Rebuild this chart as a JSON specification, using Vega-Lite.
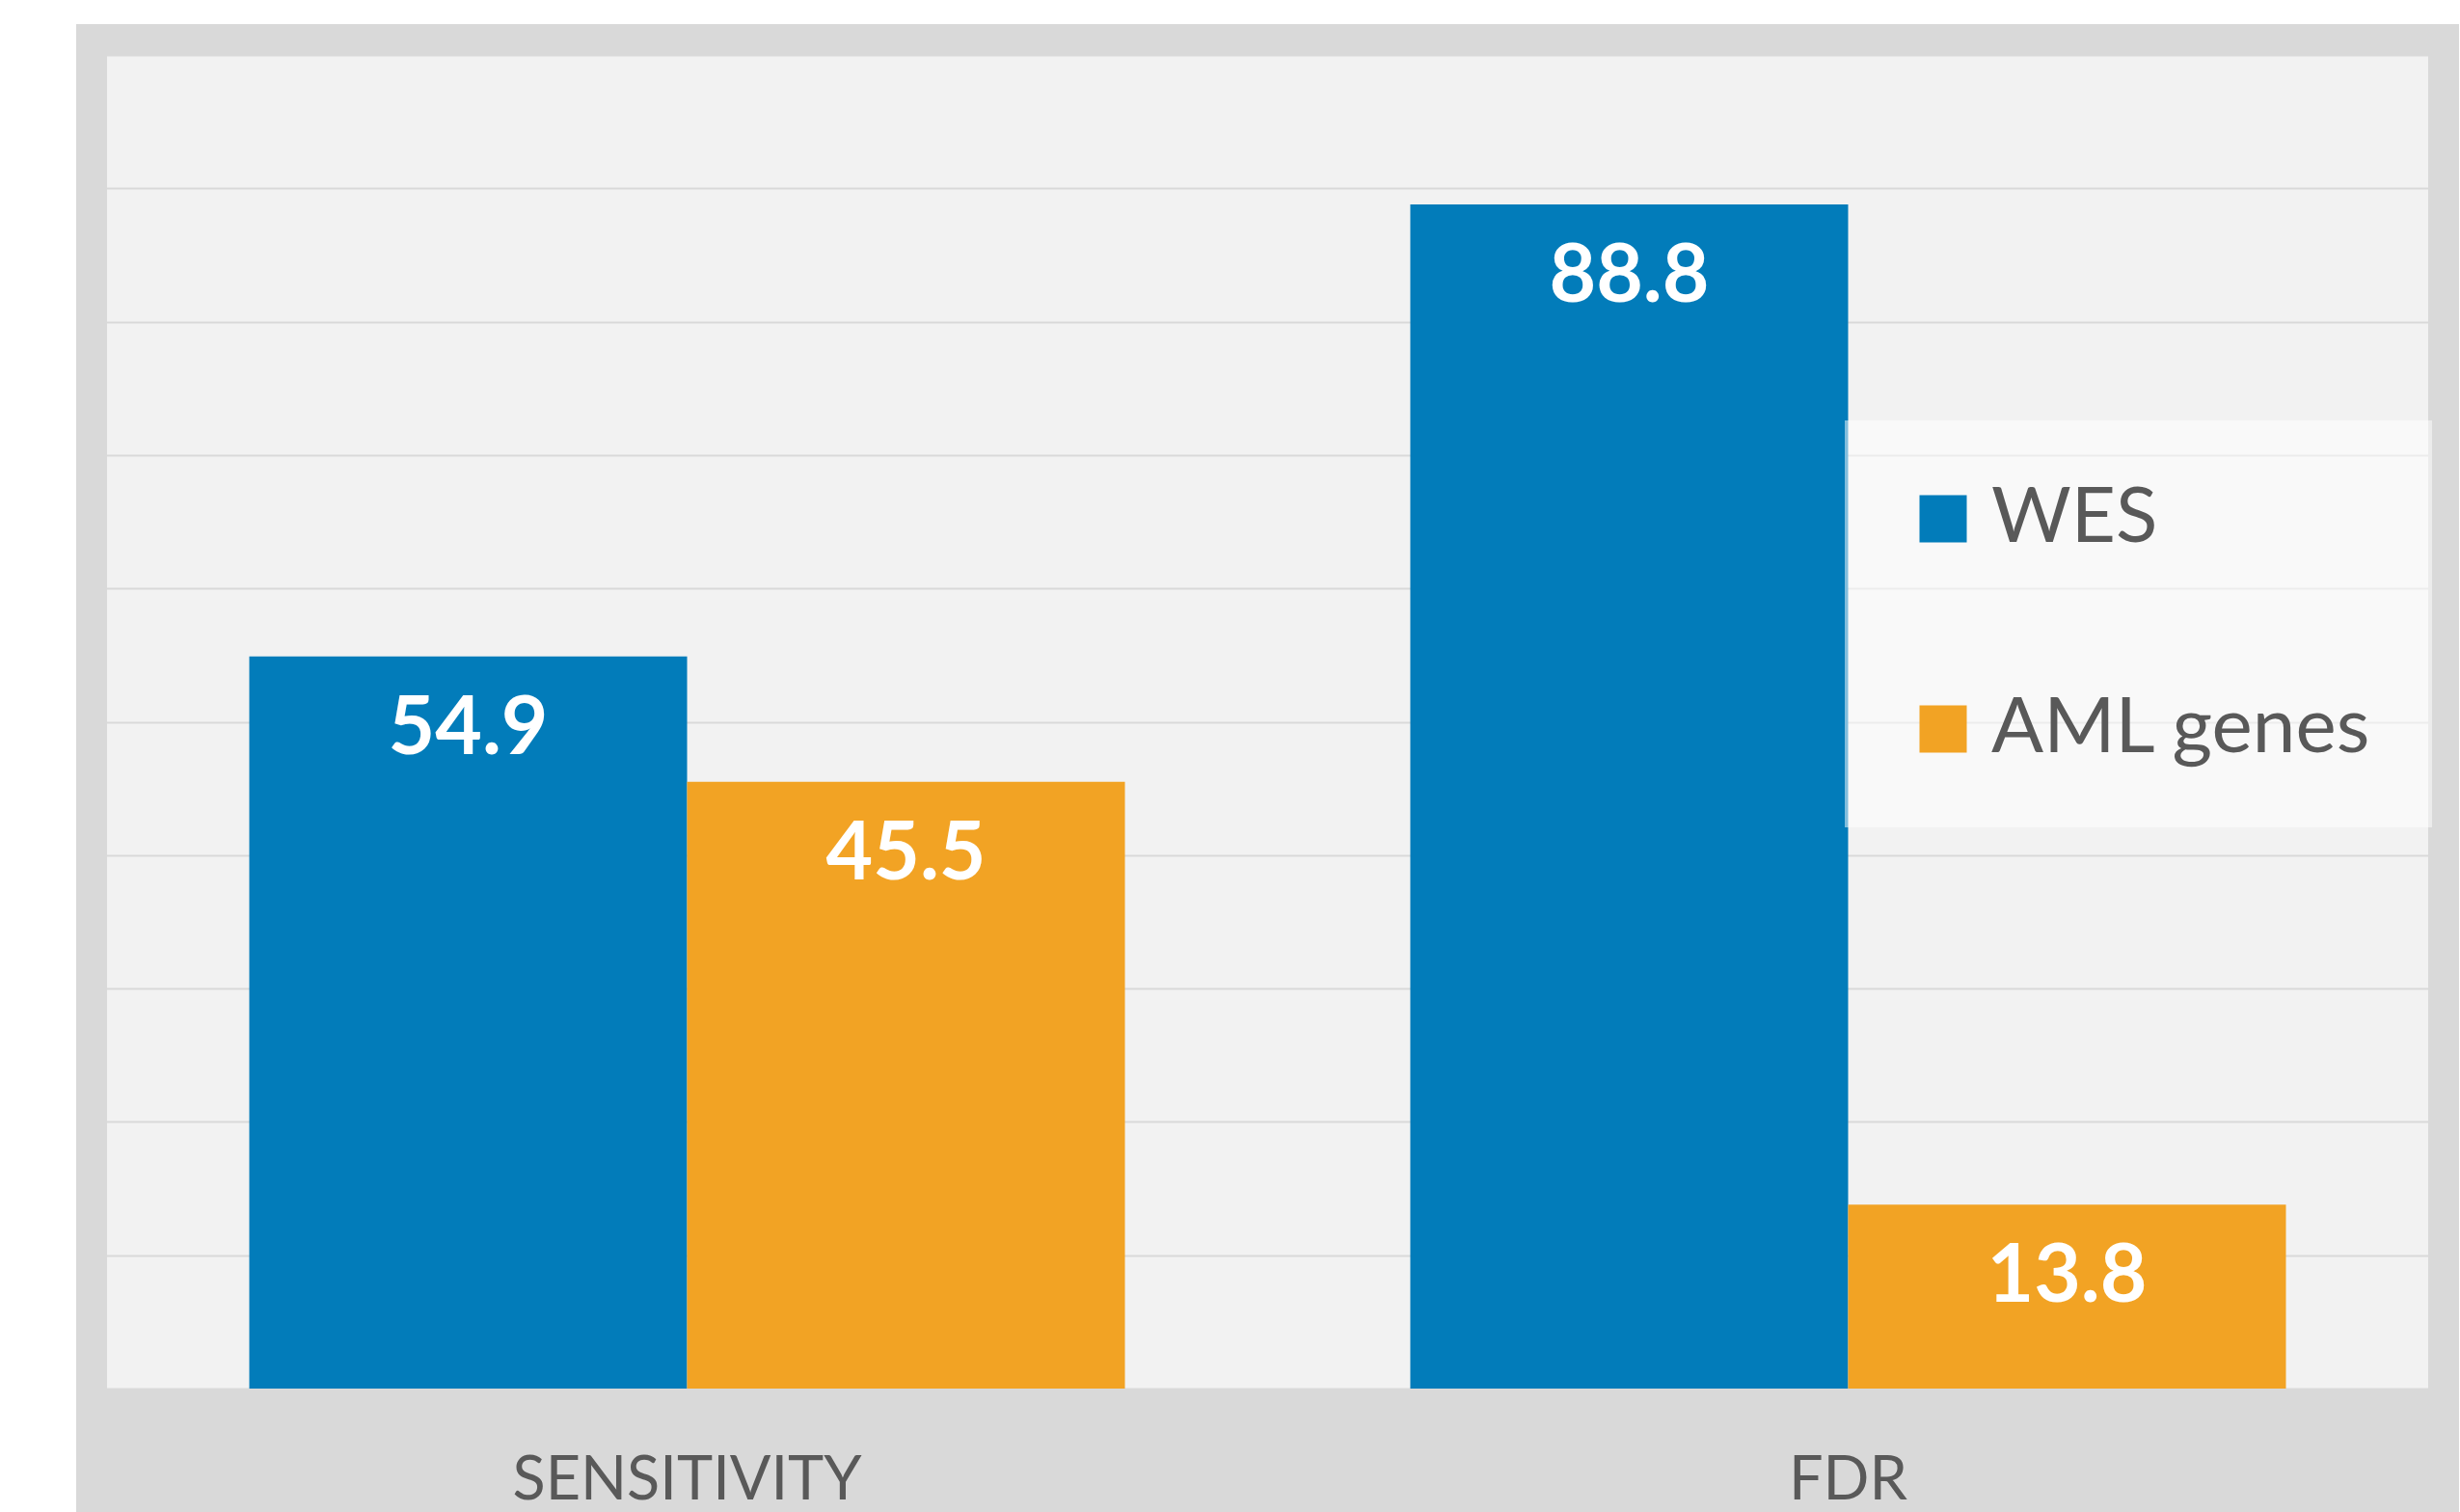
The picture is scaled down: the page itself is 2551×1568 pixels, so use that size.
{
  "$schema": "https://vega.github.io/schema/vega-lite/v6.json",
  "width": 2439,
  "height": 1527,
  "autosize": {"type": "none"},
  "padding": {"left": 95, "top": 41, "right": 17, "bottom": 0},
  "background": "white",
  "config": {
    "view": {"fill": "#f2f2f2", "stroke": "#d9d9d9", "strokeWidth": 32},
    "font": "Lato"
  },
  "data": {
    "values": [
      {"metric": "SENSITIVITY", "series": "WES", "value": 54.9},
      {"metric": "SENSITIVITY", "series": "AML genes", "value": 45.5},
      {"metric": "FDR", "series": "WES", "value": 88.8},
      {"metric": "FDR", "series": "AML genes", "value": 13.8}
    ]
  },
  "layer": [
    {
      "mark": {"type": "bar"},
      "encoding": {
        "x": {
          "field": "metric", "type": "nominal", "sort": ["SENSITIVITY", "FDR"],
          "scale": {"paddingInner": 0.2458, "paddingOuter": 0.1358},
          "axis": {"title": null, "labelAngle": 0, "ticks": false, "domain": false, "grid": false,
                   "labelFontSize": 63, "labelColor": "#595959", "labelFont": "Lato", "labelLimit": 2000,
                   "labelBaseline": "alphabetic", "labelPadding": 0, "offset": -14, "zindex": 1}
        },
        "xOffset": {"field": "series", "type": "nominal", "sort": ["WES", "AML genes"],
                    "scale": {"paddingInner": 0, "paddingOuter": 0}},
        "y": {
          "field": "value", "type": "quantitative",
          "scale": {"domain": [-9.255, 101.157], "nice": false, "zero": false},
          "axis": {"values": [0, 10, 20, 30, 40, 50, 60, 70, 80, 90, 100], "labels": false, "ticks": false,
                   "domain": false, "title": null, "gridColor": "#d9d9d9", "gridWidth": 2}
        },
        "y2": {"datum": 0},
        "color": {
          "field": "series", "type": "nominal",
          "scale": {"domain": ["WES", "AML genes"], "range": ["#027cba", "#f2a324"]},
          "legend": {
            "title": null, "orient": "none", "legendX": 1818, "legendY": 395,
            "fillColor": "rgba(255,255,255,0.5)", "padding": 62,
            "symbolType": "square", "symbolSize": 2401, "symbolStrokeWidth": 0,
            "labelFontSize": 80, "labelColor": "#595959", "labelFont": "Lato",
            "labelLimit": 1000, "rowPadding": 138, "labelOffset": 10
          }
        }
      }
    },
    {
      "data": {"values": [{"band": "bottom"}]},
      "mark": {"type": "rect", "color": "#d9d9d9"},
      "encoding": {
        "y": {"datum": -9.255, "type": "quantitative"},
        "y2": {"datum": 0}
      }
    },
    {
      "mark": {"type": "text", "align": "center", "baseline": "alphabetic", "dy": 101,
               "fontSize": 84, "fontWeight": "bold", "color": "white", "font": "Lato"},
      "encoding": {
        "x": {"field": "metric", "type": "nominal", "sort": ["SENSITIVITY", "FDR"]},
        "xOffset": {"field": "series", "type": "nominal", "sort": ["WES", "AML genes"]},
        "y": {"field": "value", "type": "quantitative"},
        "text": {"field": "value", "type": "quantitative", "format": ".1f"}
      }
    }
  ]
}
